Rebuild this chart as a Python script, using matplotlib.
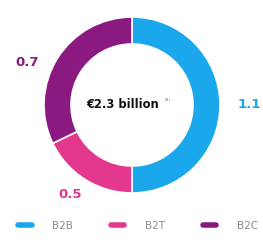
import matplotlib
matplotlib.use("Agg")
import matplotlib.pyplot as plt
from matplotlib.lines import Line2D
from matplotlib.patches import Wedge

categories = ["B2B", "B2T", "B2C"]
shares = [1.15, 0.41, 0.74]
value_labels = ["1.1", "0.5", "0.7"]
colors = ["#1aa7ec", "#e4388f", "#8a1a80"]
total_label = "€2.3 billion"

fig = plt.figure(figsize=(2.63, 2.40), dpi=100)
ax = fig.add_axes([0, 0, 1, 1])
ax.set_xlim(0, 263)
ax.set_ylim(240, 0)
ax.set_aspect("equal")
ax.axis("off")

cx, cy, r = 132, 105, 88
ang = 90.0
tot = sum(shares)
for s, c in zip(shares, colors):
    span = 360.0 * s / tot
    w = Wedge((cx, cy), r, -ang, -ang + span, width=27, facecolor=c,
              edgecolor="white", linewidth=1.2)
    ax.add_patch(w)
    ang -= span

label_pos = [(249, 104), (70, 194), (27, 62)]
for (x, y), t, c in zip(label_pos, value_labels, colors):
    ax.text(x, y, t, color=c, fontsize=9.5, fontweight="bold",
            ha="center", va="center", family="DejaVu Sans")

ax.text(123, 104, total_label, fontsize=8.3, fontweight="bold", ha="center",
        va="center", color="#111111", family="DejaVu Sans")
ax.text(165, 100, "(8)", fontsize=3.2, ha="left", va="center", color="#777777")

handles = [Line2D([0], [0], color=c, lw=4, solid_capstyle="round") for c in colors]
leg = fig.legend(handles, categories, loc="center", ncol=3, frameon=False,
                 bbox_to_anchor=(0.525, 0.058), fontsize=7.5, handlelength=1.3,
                 columnspacing=3.6, handletextpad=2.0, borderpad=0,
                 borderaxespad=0)
for t in leg.get_texts():
    t.set_color("#8a8a8a")

fig.savefig("out.png", dpi=100)
